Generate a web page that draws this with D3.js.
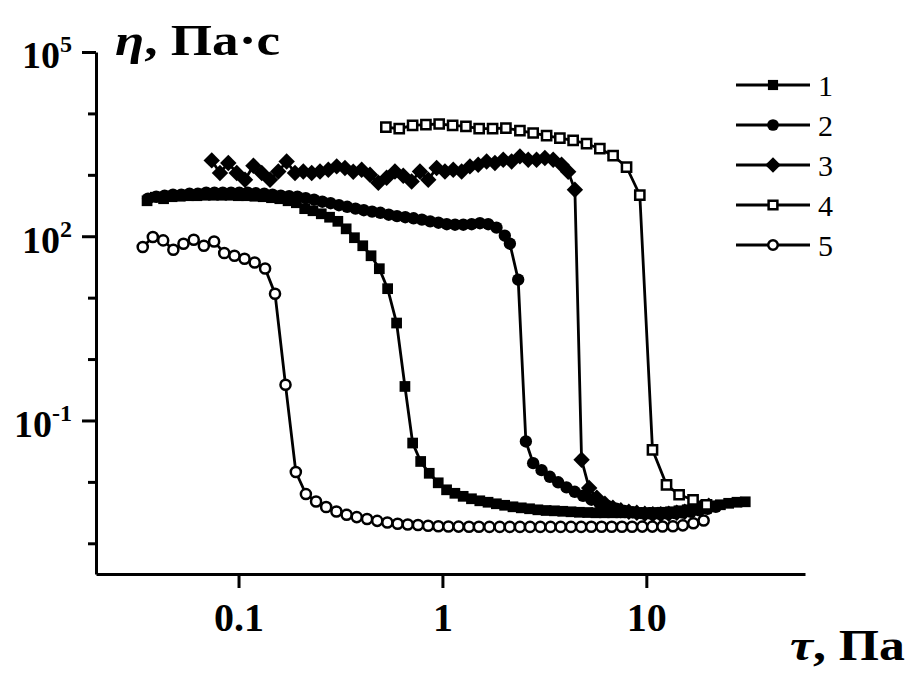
<!DOCTYPE html>
<html>
<head>
<meta charset="utf-8">
<script src="https://cdn.jsdelivr.net/npm/d3@7"></script>
<style>
  body { margin: 0; background: #fff; }
  svg { display: block; }
  text { font-family: "Liberation Serif", "Times New Roman", serif; fill: #000; }
</style>
</head>
<body>
<div id="chart"></div>
<script>
// tick values
const tauTicks = [0.1, 1, 10];
const etaMajor = [1e5, 1e2, 1e-1];
const etaMinor = [1e4, 1e3, 1e1, 1e0, 1e-2, 1e-3];

const seriesNames = ["1", "2", "3", "4", "5"];

// series 1 (filled squares)
const s1Tau = [0.0356, 0.0391, 0.0429, 0.0472, 0.0518, 0.0569, 0.0625, 0.0686, 0.0753, 0.0827, 0.0909, 0.0998,
  0.1096, 0.1203, 0.1321, 0.1451, 0.1594, 0.1750, 0.1922, 0.2111, 0.2318, 0.2546, 0.2796, 0.3070, 0.3372, 0.3703,
  0.4067, 0.4466, 0.4904, 0.5386, 0.5960, 0.6548, 0.7145, 0.7822, 0.8616, 0.9537,
  1.048, 1.151, 1.264, 1.388, 1.525, 1.674, 1.839, 2.019, 2.218, 2.436, 2.675, 2.938, 3.226, 3.543, 3.891, 4.273,
  4.693, 5.154, 5.660, 6.216, 6.826, 7.497, 8.233, 9.042, 9.930, 10.91, 11.98, 13.15, 14.45, 15.86, 17.42, 19.13,
  21.01, 23.08, 25.34, 27.83, 30.56];
const s1Eta = [378, 432, 408, 440, 448, 457, 457, 465, 465, 465, 465, 457, 457, 448, 440, 424, 408, 378, 351, 281,
  260, 232, 204, 175, 132, 94.6, 70.0, 48.1, 29.6, 14.0, 3.86, 0.358, 0.0429, 0.0215, 0.0138, 0.00966,
  0.00743, 0.00652, 0.00582, 0.00531, 0.00492, 0.00466, 0.00440, 0.00416, 0.00393, 0.00378, 0.00365, 0.00351,
  0.00342, 0.00338, 0.00332, 0.00326, 0.00320, 0.00317, 0.00314, 0.00314, 0.00314, 0.00314, 0.00314, 0.00314,
  0.00314, 0.00317, 0.00320, 0.00326, 0.00338, 0.00351, 0.00365, 0.00386, 0.00408, 0.00424, 0.00448, 0.00466,
  0.00474];

// series 2 (filled circles)
const s2Tau = [0.0360, 0.0395, 0.0434, 0.0477, 0.0524, 0.0575, 0.0632, 0.0694, 0.0762, 0.0837, 0.0919, 0.1009,
  0.1109, 0.1217, 0.1337, 0.1468, 0.1612, 0.1771, 0.1945, 0.2136, 0.2346, 0.2576, 0.2829, 0.3107, 0.3412, 0.3748,
  0.4116, 0.4520, 0.4964, 0.5452, 0.5987, 0.6575, 0.7221, 0.7930, 0.8709, 0.9558, 1.050, 1.153, 1.266, 1.391,
  1.527, 1.677, 1.842, 2.023, 2.142, 2.353, 2.566, 2.786, 3.063, 3.364, 3.695, 4.058, 4.457, 4.895, 5.376, 5.904,
  6.484, 7.121, 7.821, 8.589, 9.433, 10.36, 11.38, 12.49, 13.72, 15.07, 16.55, 18.17, 19.96, 21.92];
const s2Eta = [408, 440, 457, 474, 474, 492, 492, 511, 511, 511, 511, 511, 511, 501, 492, 474, 457, 448, 440, 416,
  393, 365, 345, 320, 302, 281, 265, 251, 241, 224, 212, 204, 196, 186, 175, 166, 157, 154, 154, 157, 163, 157,
  138, 102, 75.5, 19.6, 0.0455, 0.0202, 0.0155, 0.0121, 0.00985, 0.00816, 0.00690, 0.00594, 0.00512, 0.00448,
  0.00401, 0.00365, 0.00338, 0.00320, 0.00310, 0.00308, 0.00308, 0.00308, 0.00310, 0.00316, 0.00326, 0.00345,
  0.00365, 0.00393];

// series 3 (filled diamonds)
const s3Tau = [0.0739, 0.0811, 0.0891, 0.0980, 0.1076, 0.1183, 0.1300, 0.1427, 0.1567, 0.1722, 0.1892, 0.2078,
  0.2285, 0.2510, 0.2757, 0.3030, 0.3327, 0.3654, 0.4017, 0.4413, 0.4848, 0.5326, 0.5851, 0.6427, 0.7063, 0.7758,
  0.8522, 0.9366, 1.029, 1.130, 1.242, 1.364, 1.498, 1.647, 1.809, 1.987, 2.184, 2.399, 2.635, 2.895, 3.180, 3.494,
  3.840, 4.137, 4.463, 4.813, 5.243, 5.718, 6.262, 6.855, 7.499, 8.206, 8.980, 9.830, 10.76, 11.77, 12.88, 14.10,
  15.43, 16.89, 18.48, 20.23];
const s3Eta = [1717, 1070, 1556, 1070, 832, 1406, 1070, 832, 1135, 1652, 1070, 1135, 1070, 1135, 1211, 1371, 1291,
  1122, 1211, 1004, 743, 897, 1135, 967, 780, 1135, 832, 1291, 1135, 1211, 1135, 1371, 1459, 1652, 1556, 1762,
  1652, 1995, 1762, 1762, 1879, 1762, 1459, 1122, 572, 0.0229, 0.00793, 0.00551, 0.00440, 0.00378, 0.00345,
  0.00326, 0.00314, 0.00302, 0.00297, 0.00297, 0.00302, 0.00314, 0.00326, 0.00351, 0.00378, 0.00408];

// series 4 (open squares)
const s4Tau = [0.528, 0.614, 0.714, 0.830, 0.964, 1.122, 1.304, 1.514, 1.762, 2.048, 2.399, 2.786, 3.243, 3.767,
  4.375, 5.093, 5.916, 6.871, 7.998, 9.290, 10.72, 12.56, 14.48, 16.95, 19.73];
const s4Eta = [6000, 5636, 6383, 6546, 6720, 6383, 6138, 5636, 5636, 5781, 5224, 4797, 4335, 3975, 3631, 3210,
  2661, 2046, 1340, 469, 0.0333, 0.00897, 0.00617, 0.00511, 0.00424];

// series 5 (open circles)
const s5Tau = [0.0339, 0.0380, 0.0427, 0.0479, 0.0537, 0.0603, 0.0676, 0.0759, 0.0851, 0.0955, 0.107, 0.120,
  0.135, 0.151, 0.170, 0.191, 0.214, 0.240, 0.269, 0.302, 0.339, 0.380, 0.427, 0.479, 0.537, 0.603, 0.676, 0.759,
  0.851, 0.955, 1.07, 1.20, 1.35, 1.51, 1.70, 1.91, 2.14, 2.40, 2.69, 3.02, 3.39, 3.80, 4.27, 4.79, 5.37, 6.03,
  6.76, 7.59, 8.51, 9.55, 10.7, 12.0, 13.5, 15.1, 17.0, 19.1];
const s5Eta = [66.7, 97.0, 85.5, 60.3, 75.5, 87.7, 70.0, 82.3, 53.2, 48.1, 43.0, 37.4, 29.9, 11.6, 0.381, 0.0145,
  0.00633, 0.00480, 0.00389, 0.00330, 0.00291, 0.00267, 0.00248, 0.00232, 0.00218, 0.00208, 0.00202, 0.00198,
  0.00193, 0.00190, 0.00188, 0.00187, 0.00186, 0.00186, 0.00185, 0.00185, 0.00185, 0.00185, 0.00185, 0.00185,
  0.00185, 0.00185, 0.00185, 0.00185, 0.00186, 0.00186, 0.00186, 0.00186, 0.00186, 0.00187, 0.00187, 0.00188,
  0.00189, 0.00196, 0.00212, 0.00235];

const width = 910, height = 677;
const margin = {top: 52, right: 105, bottom: 103, left: 96};

const svg = d3.select("#chart").append("svg")
  .attr("width", width)
  .attr("height", height);

////////////
// SCALES //
////////////

const x = d3.scaleLog()
  .domain([0.02, 60])
  .range([margin.left, width - margin.right]);

const y = d3.scaleLog()
  .domain([Math.pow(10, -3.5), 1e5])
  .range([height - margin.bottom, margin.top]);

//////////
// AXES //
//////////

const xAxis = d3.axisBottom(x)
  .tickValues(tauTicks)
  .tickFormat(d => String(d))
  .tickSize(14)
  .tickSizeOuter(0)
  .tickPadding(15);

const gx = svg.append("g")
  .attr("class", "x axis")
  .attr("transform", "translate(0," + (height - margin.bottom) + ")")
  .call(xAxis);

gx.selectAll("text")
  .style("font-size", "40px")
  .style("font-weight", "bold");

const yAxisMinor = d3.axisLeft(y)
  .tickValues(etaMinor)
  .tickFormat("")
  .tickSize(8)
  .tickSizeOuter(0);

svg.append("g")
  .attr("class", "y axis minor")
  .attr("transform", "translate(" + margin.left + ",0)")
  .call(yAxisMinor)
  .select(".domain").remove();

const yAxis = d3.axisLeft(y)
  .tickValues(etaMajor)
  .tickSize(14)
  .tickSizeOuter(0)
  .tickPadding(10);

const gy = svg.append("g")
  .attr("class", "y axis")
  .attr("transform", "translate(" + margin.left + ",0)")
  .call(yAxis);

// rebuild labels as 10 with a superscript power
gy.selectAll(".tick text")
  .text(null)
  .attr("dy", "0.42em")
  .style("font-size", "38px")
  .style("font-weight", "bold")
  .each(function(d) {
    const t = d3.select(this);
    t.append("tspan").text("10");
    t.append("tspan")
      .attr("dy", -16)
      .style("font-size", "24px")
      .text(String(Math.round(Math.log10(d))));
  });

svg.selectAll(".axis path, .axis line")
  .attr("stroke", "#000")
  .attr("stroke-width", 3);

svg.selectAll(".axis text").attr("fill", "#000");

////////////
// TITLES //
////////////

const yTitle = svg.append("text")
  .attr("x", 115)
  .attr("y", 55)
  .attr("textLength", 165)
  .attr("lengthAdjust", "spacingAndGlyphs")
  .style("font-size", "44px")
  .style("font-weight", "bold");
yTitle.append("tspan").style("font-style", "italic").text("η");
yTitle.append("tspan").text(", Па·с");

const xTitle = svg.append("text")
  .attr("x", 905)
  .attr("y", 660)
  .attr("text-anchor", "end")
  .attr("textLength", 115)
  .attr("lengthAdjust", "spacingAndGlyphs")
  .style("font-size", "44px")
  .style("font-weight", "bold");
xTitle.append("tspan").style("font-style", "italic").text("τ");
xTitle.append("tspan").text(", Па");

////////////
// SERIES //
////////////

const series = [
  {name: seriesNames[0], tau: s1Tau, eta: s1Eta, shape: d3.symbolSquare, size: 115, rot: 0, fill: "#000"},
  {name: seriesNames[1], tau: s2Tau, eta: s2Eta, shape: d3.symbolCircle, size: 120, rot: 0, fill: "#000"},
  {name: seriesNames[2], tau: s3Tau, eta: s3Eta, shape: d3.symbolSquare, size: 135, rot: 45, fill: "#000"},
  {name: seriesNames[3], tau: s4Tau, eta: s4Eta, shape: d3.symbolSquare, size: 85, rot: 0, fill: "#fff"},
  {name: seriesNames[4], tau: s5Tau, eta: s5Eta, shape: d3.symbolCircle, size: 80, rot: 0, fill: "#fff"}
];

const line = d3.line()
  .x(d => x(d.tau))
  .y(d => y(d.eta));

series.forEach(s => {
  const pts = s.tau.map((t, i) => ({tau: t, eta: s.eta[i]}));
  const g = svg.append("g").attr("class", "series");

  g.append("path")
    .datum(pts)
    .attr("fill", "none")
    .attr("stroke", "#000")
    .attr("stroke-width", 2.8)
    .attr("d", line);

  g.selectAll(".marker")
    .data(pts)
    .enter().append("path")
    .attr("class", "marker")
    .attr("d", d3.symbol().type(s.shape).size(s.size))
    .attr("transform", d => "translate(" + x(d.tau) + "," + y(d.eta) + ") rotate(" + s.rot + ")")
    .attr("fill", s.fill)
    .attr("stroke", "#000")
    .attr("stroke-width", s.fill === "#fff" ? 2.5 : 0);
});

////////////
// LEGEND //
////////////

const legend = svg.append("g").attr("class", "legend");

series.forEach((s, i) => {
  const ly = 85 + i * 40;
  const row = legend.append("g").attr("transform", "translate(0," + ly + ")");
  row.append("line")
    .attr("x1", 736).attr("x2", 810)
    .attr("y1", 0).attr("y2", 0)
    .attr("stroke", "#000")
    .attr("stroke-width", 3);
  row.append("path")
    .attr("d", d3.symbol().type(s.shape).size(s.size * 0.9))
    .attr("transform", "translate(773,0) rotate(" + s.rot + ")")
    .attr("fill", s.fill)
    .attr("stroke", "#000")
    .attr("stroke-width", s.fill === "#fff" ? 2.5 : 0);
  row.append("text")
    .attr("x", 818)
    .attr("y", 0)
    .attr("dy", "0.35em")
    .style("font-size", "30px")
    .text(s.name);
});
</script>
</body>
</html>
